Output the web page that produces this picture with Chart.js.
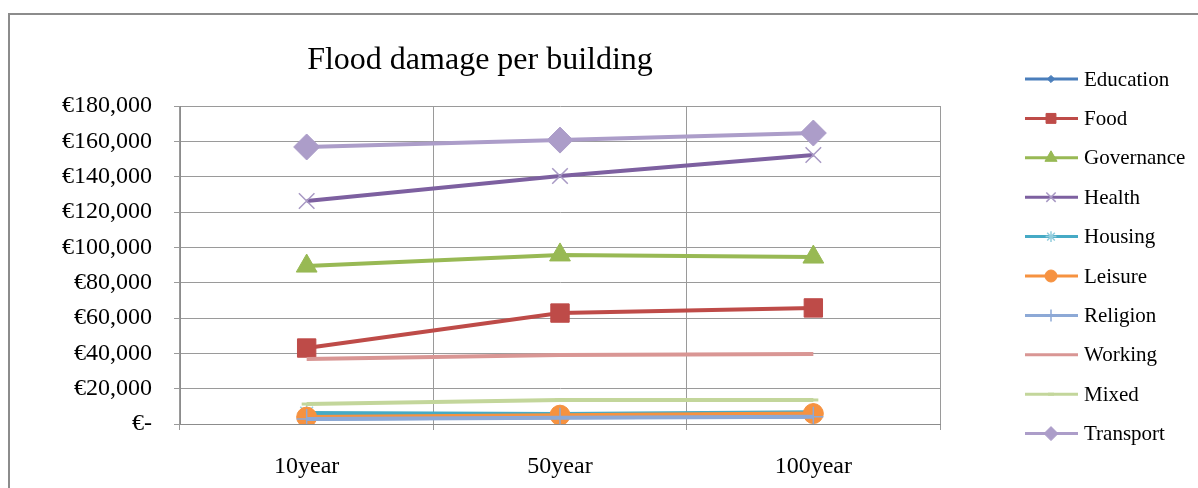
<!DOCTYPE html>
<html>
<head>
<meta charset="utf-8">
<script src="https://cdn.jsdelivr.net/npm/chart.js@4/dist/chart.umd.min.js"></script>
<style>
  html, body { margin: 0; padding: 0; background: #fff; }
  #wrap { width: 1198px; height: 488px; }
</style>
</head>
<body>
<div id="wrap"><canvas id="grafico" width="1198" height="488"></canvas></div>
<script>
// Datos
const periodos = ['10year', '50year', '100year'];
const education = [3000, 3800, 4200];
const food = [43000, 62800, 65700];
const governance = [89400, 95700, 94500];
const health = [126200, 140400, 152300];
const housing = [6200, 5600, 6600];
const leisure = [3900, 5000, 5900];
const religion = [2800, 3600, 4100];
const working = [36800, 39000, 39600];
const mixed = [11300, 13600, 13600];
const transport = [156800, 160700, 164700];
const tituloGrafico = 'Flood damage per building';

const serif = '"Liberation Serif", "Times New Roman", serif';

function serie(label, data, color, estilo, radio, extra) {
    return Object.assign({
        label: label,
        data: data,
        borderColor: color,
        backgroundColor: color,
        pointBackgroundColor: color,
        pointBorderColor: color,
        borderWidth: 4,
        pointStyle: estilo,
        pointRadius: radio,
        pointHoverRadius: radio,
        pointBorderWidth: 1,
        tension: 0,
        fill: false
    }, extra || {});
}

const series = [
    serie('Education', education, '#4A7EBB', 'rectRot', 6),
    serie('Food', food, '#BE4B48', 'rect', 13),
    serie('Governance', governance, '#98B954', 'triangle', 12),
    serie('Health', health, '#7D60A0', 'crossRot', 11, { pointBorderColor: '#A899C4', pointBorderWidth: 1.5 }),
    serie('Housing', housing, '#46AAC5', 'star', 9, { pointBorderColor: '#93CDDD', pointBorderWidth: 1.5 }),
    serie('Leisure', leisure, '#F69240', 'circle', 10),
    serie('Religion', religion, '#8DA9D6', 'cross', 10, { pointBorderWidth: 1.5 }),
    serie('Working', working, '#D99694', 'circle', 0),
    serie('Mixed', mixed, '#C3D69B', 'line', 5, { pointBorderWidth: 3 }),
    serie('Transport', transport, '#AC9DC9', 'rectRot', 13)
];
// Excel dibuja la última serie encima
series.forEach((s, i) => { s.order = series.length - i; });

// Marco, título y leyenda
const decoracion = {
    id: 'decoracion',
    beforeDraw(chart) {
        const ctx = chart.ctx;
        ctx.save();
        ctx.fillStyle = '#fff';
        ctx.fillRect(0, 0, chart.width, chart.height);
        ctx.strokeStyle = '#8c8c8c';
        ctx.lineWidth = 2;
        ctx.strokeRect(9, 14, 1400, 600);
        ctx.restore();
    },
    afterDraw(chart) {
        const ctx = chart.ctx;
        ctx.save();
        ctx.fillStyle = '#000';
        ctx.font = '32px ' + serif;
        ctx.textAlign = 'center';
        ctx.textBaseline = 'middle';
        ctx.fillText(tituloGrafico, 480, 61);

        ctx.font = '21px ' + serif;
        ctx.textAlign = 'left';
        chart.data.datasets.forEach((ds, i) => {
            const y = 79 + i * 39.4;
            ctx.strokeStyle = ds.borderColor;
            ctx.lineWidth = 3;
            ctx.beginPath();
            ctx.moveTo(1025, y);
            ctx.lineTo(1078, y);
            ctx.stroke();
            if (ds.pointRadius > 0 && Chart.helpers && Chart.helpers.drawPoint) {
                ctx.fillStyle = ds.pointBackgroundColor;
                ctx.strokeStyle = ds.pointBorderColor;
                ctx.lineWidth = ds.pointBorderWidth;
                Chart.helpers.drawPoint(ctx, {
                    pointStyle: ds.pointStyle,
                    radius: Math.min(ds.pointRadius * 0.6, 7),
                    rotation: 0,
                    borderWidth: ds.pointBorderWidth
                }, 1051, y);
            }
            ctx.fillStyle = '#000';
            ctx.fillText(ds.label, 1084, y + 1);
        });
        ctx.restore();
    }
};

const ctx = document.getElementById('grafico').getContext('2d');
const grafico = new Chart(ctx, {
    type: 'line',
    data: {
        labels: periodos,
        datasets: series
    },
    options: {
        responsive: false,
        animation: false,
        layout: {
            padding: { top: 106, right: 258, bottom: 0, left: 0 }
        },
        plugins: {
            legend: { display: false },
            title: { display: false },
            tooltip: { enabled: false }
        },
        scales: {
            x: {
                offset: true,
                grid: {
                    offset: true,
                    color: '#9a9a9a',
                    tickLength: 6
                },
                border: { color: '#8c8c8c' },
                ticks: {
                    color: '#000',
                    padding: 22,
                    font: { family: serif, size: 24 }
                },
                afterFit(scale) { scale.height = 64; }
            },
            y: {
                min: 0,
                max: 180000,
                grid: {
                    color: '#9a9a9a',
                    tickLength: 6
                },
                border: { color: '#8c8c8c' },
                ticks: {
                    stepSize: 20000,
                    color: '#000',
                    padding: 22,
                    font: { family: serif, size: 24 },
                    callback: v => v === 0 ? '€-' : '€' + v.toLocaleString('en-US')
                },
                afterFit(scale) { scale.width = 180; }
            }
        }
    },
    plugins: [decoracion]
});
</script>
</body>
</html>
